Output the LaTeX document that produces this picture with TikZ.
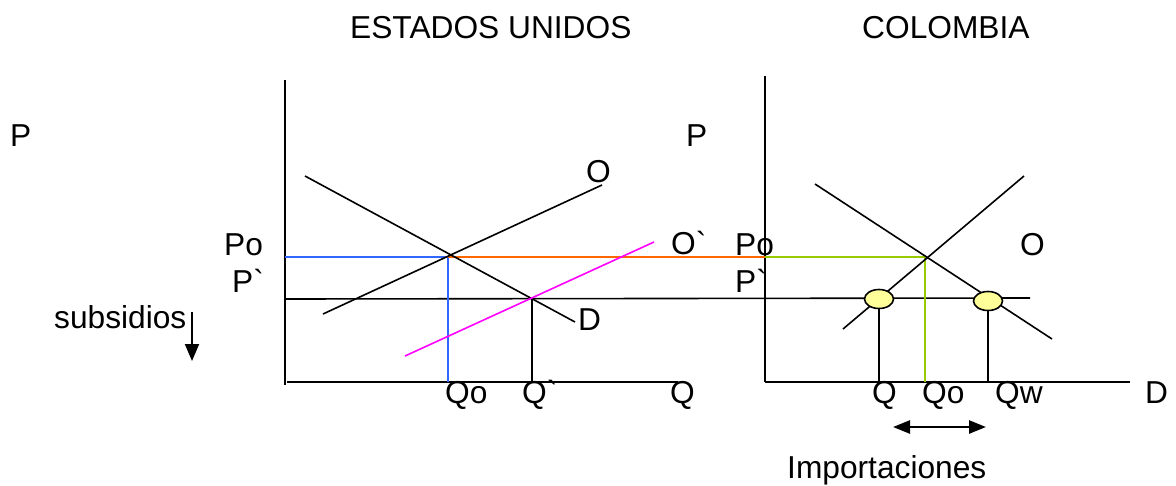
\documentclass[tikz,border=0pt]{standalone}
\usepackage{fontspec}
\setmainfont{Liberation Sans}
\usetikzlibrary{arrows.meta,shapes.geometric}
\definecolor{pblue}{HTML}{3366FF}
\definecolor{porange}{HTML}{FF6600}
\definecolor{pgreen}{HTML}{99CC00}
\definecolor{pmagenta}{HTML}{FF00FF}
\definecolor{pyellow}{HTML}{FFFF99}
\begin{document}
\begin{tikzpicture}[x=1pt,y=-1pt,
  lbl/.style={inner sep=0pt, anchor=base west, font=\fontsize{31.7}{37}\selectfont},
  ln/.style={line width=1.6pt},
  axis/.style={line width=2pt},
  dot/.style={ellipse, draw, line width=1.6pt, fill=pyellow, minimum width=29pt, minimum height=19pt, inner sep=0pt}]
\useasboundingbox (0,0) rectangle (1176,485);

% coordinates
\coordinate (Lorig) at (285,382);
\coordinate (Ltop) at (285,80);
\coordinate (Lend) at (678,382);
\coordinate (Rorig) at (765,382);
\coordinate (Rtop) at (765,76);
\coordinate (Rend) at (1130,382);
\coordinate (DL1) at (305,176);
\coordinate (DL2) at (575,322);
\coordinate (OL1) at (323,314);
\coordinate (OL2) at (602,185);
\coordinate (OpL1) at (405,356);
\coordinate (OpL2) at (654,242);
\coordinate (EqL) at (448,257);
\coordinate (EqR) at (925,257);
\coordinate (PoL) at (285,257);
\coordinate (PoR) at (765,257);
\coordinate (PpA) at (285,299);
\coordinate (PpB) at (1030,298);
\coordinate (QpTop) at (532,299);
\coordinate (DR1) at (815,184);
\coordinate (DR2) at (1052,339);
\coordinate (OR1) at (843,329);
\coordinate (OR2) at (1024,176);
\coordinate (SubA) at (192,312);
\coordinate (SubB) at (192,361);
\coordinate (ImpA) at (893,427);
\coordinate (ImpB) at (986,427);

% axes
\draw[axis] (Ltop) -- (285,385);
\draw[axis] (287,382) -- (Lend);
\draw[axis] (Rtop) -- (Rorig);
\draw[axis] (Rorig) -- (Rend);

% price lines
\draw[ln] (PpA) -- (PpB);
\draw[ln, pblue] (PoL) -- (EqL) -- (EqL |- Lorig);
\draw[ln, porange] (EqL) -- (PoR);
\draw[ln, pgreen] (PoR) -- (EqR) -- (EqR |- Rorig);
\draw[ln] (QpTop) -- (QpTop |- Lorig);

% curves left
\draw[ln] (DL1) -- (DL2);
\draw[ln] (OL1) -- (OL2);
\draw[ln, pmagenta] (OpL1) -- (OpL2);

% curves right
\draw[ln] (DR1) -- (DR2);
\draw[ln] (OR1) -- (OR2);

% ellipses
\node[dot] (e1) at (879,299) {};
\node[dot] (e2) at (988,301) {};
\draw[ln] (e1.south) -- (e1.south |- Rorig);
\draw[ln] (e2.south) -- (e2.south |- Rorig);

% arrows
\draw[line width=2pt, -{Triangle[width=14pt,length=17pt]}] (SubA) -- (SubB);
\draw[line width=2.5pt, {Triangle[width=13pt,length=17pt]}-{Triangle[width=13pt,length=17pt]}] (ImpA) -- (ImpB);

% labels
\node[lbl] (tUS) at (350,38) {ESTADOS UNIDOS};
\node[lbl] (tCO) at (862,38) {COLOMBIA};
\node[lbl] (pL) at (10,146) {P};
\node[lbl] (pR) at (686,146) {P};
\node[lbl] (oL) at (586,182) {O};
\node[lbl] (opL) at (671,254) {O\textasciigrave};
\node[lbl] (poR) at (735,255) {Po};
\node[lbl] (ppR) at (735,292) {P\textasciigrave};
\node[lbl] (dL) at (578,330) {D};
\node[lbl] (poL) at (224,255) {Po};
\node[lbl] (ppL) at (232,292) {P\textasciigrave};
\node[lbl] (sub) at (54,328) {subsidios};
\node[lbl] (qoL) at (445,403) {Qo};
\node[lbl] (qpL) at (522,403) {Q\textasciigrave};
\node[lbl] (qL) at (670,403) {Q};
\node[lbl] (qR) at (872,403) {Q};
\node[lbl] (qoR) at (922,403) {Qo};
\node[lbl] (qwR) at (995,403) {Qw};
\node[lbl] (dR) at (1145,403) {D};
\node[lbl] (oR) at (1020,255) {O};
\node[lbl] (imp) at (787,478) {Importaciones};
\end{tikzpicture}
\end{document}
